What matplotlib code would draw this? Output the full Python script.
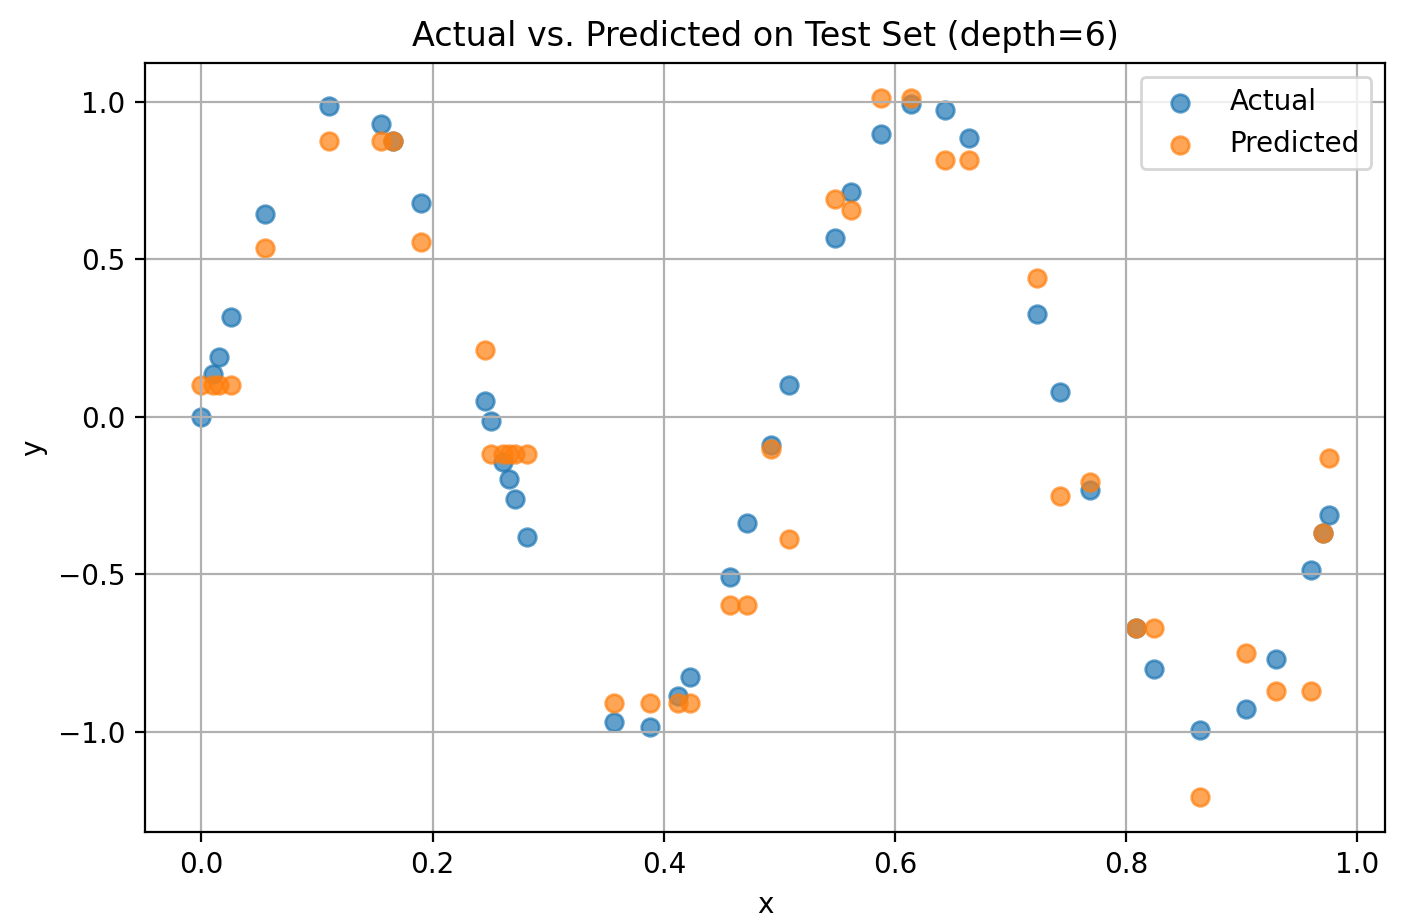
import matplotlib
matplotlib.use('Agg')
import matplotlib.pyplot as plt
import numpy as np

# test set values
x_test = [0.0, 0.0101, 0.0153, 0.0257, 0.055, 0.110, 0.155, 0.166, 0.190,
          0.2455, 0.2504, 0.2607, 0.266, 0.271, 0.2815,
          0.357, 0.388, 0.412, 0.4224, 0.457, 0.4724, 0.4931, 0.5086,
          0.5483, 0.562, 0.588, 0.6138, 0.643, 0.6638, 0.7224,
          0.7428, 0.7688, 0.8087, 0.8243, 0.8642, 0.904, 0.930, 0.9595,
          0.970, 0.9751]
y_actual = [0.0, 0.135, 0.19, 0.315, 0.645, 0.988, 0.93, 0.874, 0.677,
            0.049, -0.015, -0.145, -0.199, -0.263, -0.383,
            -0.971, -0.985, -0.886, -0.826, -0.508, -0.338, -0.089, 0.099,
            0.567, 0.713, 0.897, 0.993, 0.974, 0.886, 0.325,
            0.077, -0.233, -0.670, -0.802, -0.994, -0.929, -0.770, -0.486,
            -0.371, -0.311]
y_pred = [0.10, 0.10, 0.10, 0.10, 0.537, 0.874, 0.874, 0.874, 0.556,
          0.213, -0.118, -0.118, -0.118, -0.118, -0.118,
          -0.908, -0.908, -0.908, -0.908, -0.598, -0.598, -0.103, -0.389,
          0.690, 0.657, 1.012, 1.012, 0.815, 0.815, 0.440,
          -0.252, -0.208, -0.670, -0.670, -1.208, -0.751, -0.872, -0.872,
          -0.369, -0.132]

W, H, DPI = 1406, 924, 200
fig = plt.figure(figsize=(W / DPI, H / DPI), dpi=DPI)
ax = fig.add_axes([145 / W, (H - 832) / H, 1240 / W, 769 / H])

ax.scatter(x_test, y_actual, s=40, color='tab:blue', alpha=0.7, label='Actual')
ax.scatter(x_test, y_pred, s=40, color='tab:orange', alpha=0.7, label='Predicted')

ax.set_title("Actual vs. Predicted on Test Set (depth=6)")
ax.set_xlabel("x")
ax.set_ylabel("y")
ax.grid(True)
ax.legend()

fig.savefig("out.png", dpi=DPI)
